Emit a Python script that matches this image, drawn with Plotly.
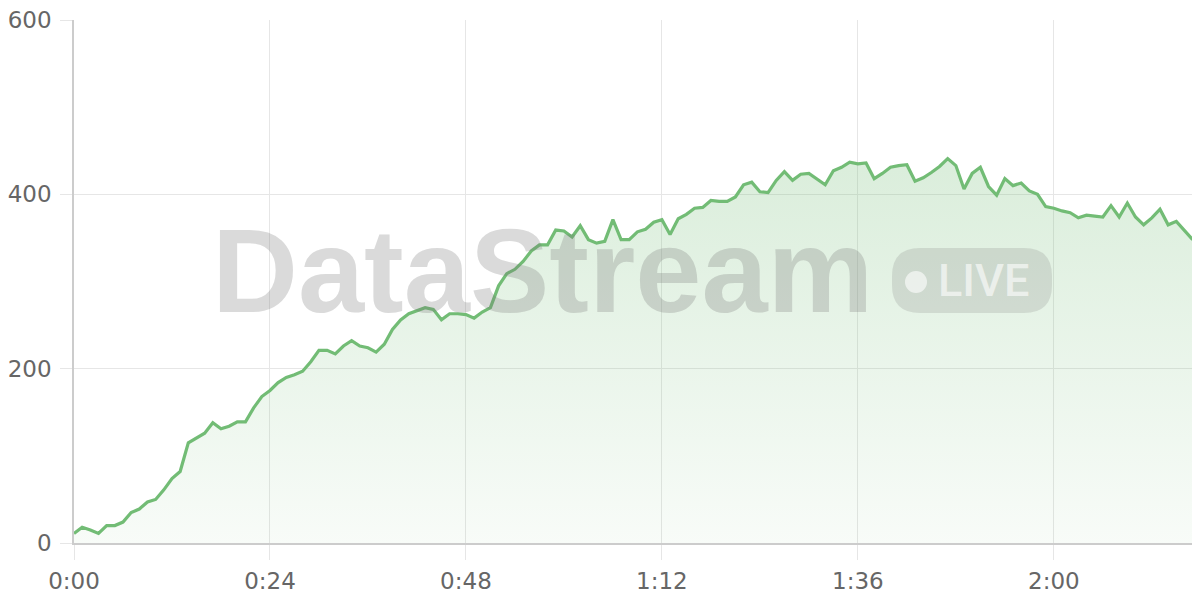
import plotly.graph_objects as go

# ---- data ----
minutes = list(range(138))
values = [11, 18, 15, 11, 20, 20, 24, 35, 39, 47,
          50, 61, 74, 82, 115, 120, 126, 138, 131, 134,
          139, 139, 155, 168, 175, 184, 190, 193, 197, 208,
          221, 221, 217, 226, 232, 226, 224, 219, 228, 245,
          256, 263, 267, 270, 268, 256, 263, 263, 262, 258,
          265, 270, 295, 309, 314, 323, 335, 342, 342, 359,
          358, 351, 364, 348, 344, 346, 371, 348, 348, 357,
          360, 368, 371, 354, 372, 377, 384, 385, 393, 392,
          392, 397, 411, 414, 403, 402, 416, 426, 416, 423,
          424, 418, 411, 427, 431, 437, 435, 436, 418, 424,
          431, 433, 434, 415, 419, 425, 432, 441, 433, 406,
          424, 431, 409, 399, 418, 410, 413, 404, 400, 386,
          384, 381, 379, 373, 376, 375, 374, 387, 374, 390,
          374, 365, 373, 383, 365, 369, 358, 348]
tick_vals = [0, 24, 48, 72, 96, 120]
tick_text = ["0:00", "0:24", "0:48", "1:12", "1:36", "2:00"]
y_ticks = [0, 200, 400, 600]

GREEN = "rgb(114,188,117)"
GRID = "#e6e6e6"
AXIS = "#cccccc"
LABEL_FONT = dict(family="DejaVu Sans", size=23, color="#666666")

# page body adds an 8px offset; work in screen pixels and convert
OFF = 8
W, H = 1200 - OFF, 600 - OFF
L, R, T, B = 74, 1200, 20, 543          # plot area in screen pixels
def px(x):
    return (x - L) / (R - L)
def py(y):
    return (B - y) / (B - T)

fig = go.Figure()
fig.add_trace(go.Scatter(
    x=minutes, y=values, mode="lines",
    line=dict(color=GREEN, width=3.2),
    fill="tozeroy",
    fillgradient=dict(type="vertical", start=0, stop=440,
                      colorscale=[[0, "rgba(114,188,117,0.05)"],
                                  [1, "rgba(114,188,117,0.26)"]]),
    hoverinfo="skip", showlegend=False,
))

# watermark
fig.add_annotation(
    text="DataStream", xref="paper", yref="paper",
    x=px(542), y=py(270), xanchor="center", yanchor="middle",
    showarrow=False,
    font=dict(family="Liberation Sans", size=119, weight="bold",
              color="rgba(120,120,120,0.27)"),
)
# LIVE badge
bx0, bx1, by0, by1, r = 892, 1052, 248, 313, 28
path = (f"M {px(bx0 + r)} {py(by0)} L {px(bx1 - r)} {py(by0)} "
        f"Q {px(bx1)} {py(by0)} {px(bx1)} {py(by0 + r)} "
        f"L {px(bx1)} {py(by1 - r)} "
        f"Q {px(bx1)} {py(by1)} {px(bx1 - r)} {py(by1)} "
        f"L {px(bx0 + r)} {py(by1)} "
        f"Q {px(bx0)} {py(by1)} {px(bx0)} {py(by1 - r)} "
        f"L {px(bx0)} {py(by0 + r)} "
        f"Q {px(bx0)} {py(by0)} {px(bx0 + r)} {py(by0)} Z")
fig.add_shape(type="path", path=path, xref="paper", yref="paper",
              fillcolor="rgba(120,120,120,0.2)", line=dict(width=0),
              layer="above")
fig.add_shape(type="circle", xref="paper", yref="paper",
              x0=px(905), x1=px(927), y0=py(271), y1=py(293),
              fillcolor="rgba(255,255,255,0.6)", line=dict(width=0),
              layer="above")
fig.add_annotation(
    text="LIVE", xref="paper", yref="paper",
    x=px(984), y=py(280), xanchor="center", yanchor="middle",
    showarrow=False,
    font=dict(family="Roboto", size=45, weight=500,
              color="rgba(255,255,255,0.6)"),
)

fig.update_layout(
    width=W, height=H,
    margin=dict(l=L - OFF, r=1200 - R, t=T - OFF, b=600 - B),
    paper_bgcolor="white", plot_bgcolor="white",
    xaxis=dict(range=[0, 137.9], tickvals=tick_vals, ticktext=tick_text,
               showgrid=True, gridcolor=GRID, gridwidth=1,
               ticks="outside", ticklen=15, tickcolor=GRID,
               showline=True, linecolor=AXIS, linewidth=2,
               zeroline=False, tickfont=LABEL_FONT, ticklabelstandoff=1,
               ticklabeloverflow="allow"),
    yaxis=dict(range=[0, 600], tickvals=y_ticks,
               showgrid=True, gridcolor=GRID, gridwidth=1,
               ticks="outside", ticklen=12, tickcolor=GRID,
               showline=True, linecolor=AXIS, linewidth=1.5,
               zeroline=False, tickfont=LABEL_FONT, ticklabelstandoff=4,
               ticklabeloverflow="allow"),
)

fig.write_html("out.html")
